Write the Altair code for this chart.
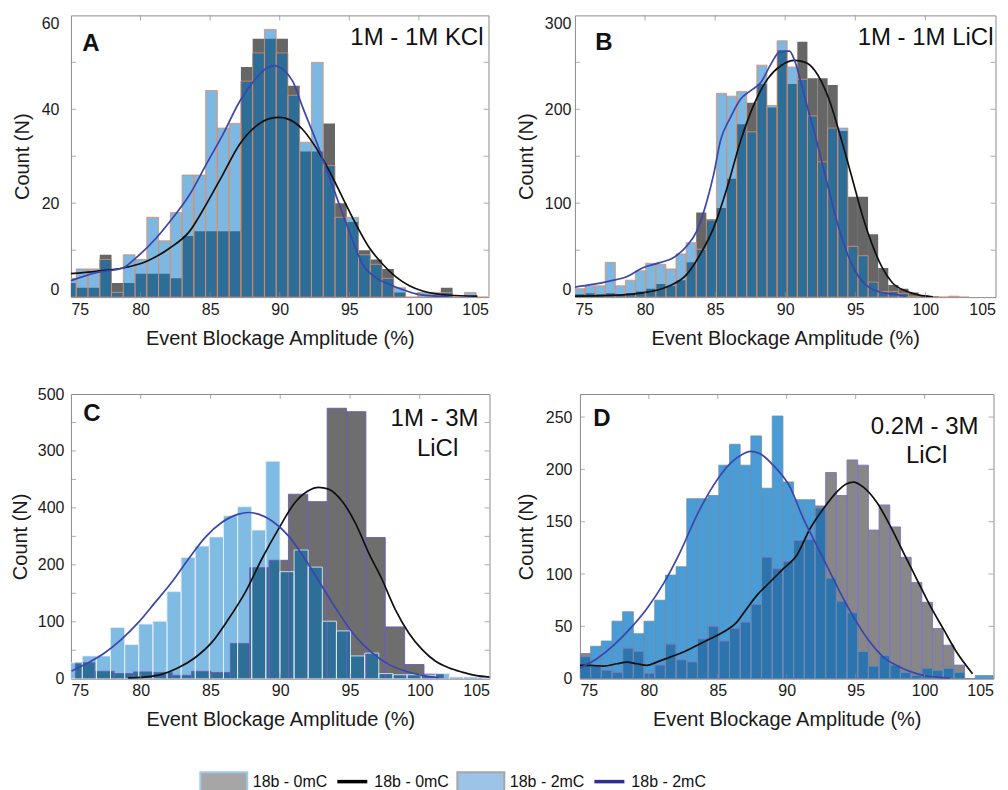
import altair as alt
import pandas as pd

FONT = "Liberation Sans"
XTITLE = "Event Blockage Amplitude (%)"
YTITLE = "Count (N)"
X_LABELS = [75, 80, 85, 90, 95, 100, 105]
X_INNER_TICKS = [80, 85, 90, 95, 100]

# ---------------- Panel A : 1M - 1M KCl ----------------
A_bin_start = 74.535
A_bin_width = 0.845
A_hist_0mC = [3, 2, 2, 9, 3, 3, 5, 5, 5, 4, 13, 14, 14, 14, 14, 49, 55, 55, 55, 45, 31, 31, 37, 20,
              16, 10, 8, 6, 1, 0, 0, 0, 2, 0, 0, 0]
A_hist_2mC = [4, 6, 6, 8, 1, 9, 8, 17, 12, 18, 26, 26, 44, 36, 37, 46, 52, 57, 52, 43, 33, 50, 28, 17,
              17, 9, 7, 4, 2, 0, 1, 1, 1, 0, 1, 0]
A_fit_0mC_x = [74.9, 76.82, 78.73, 80.41, 82.08, 83.52, 84.71, 85.91, 87.11, 88.3, 89.26, 89.98, 90.7,
               91.65, 92.61, 93.57, 94.53, 95.48, 96.44, 97.4, 98.35, 99.31, 100.27, 101.23, 102.18, 104.2]
A_fit_0mC_y = [5.0, 5.5, 6.2, 7.6, 10.4, 14.0, 19.7, 26.1, 32.5, 36.4, 38.0, 38.3, 37.8, 35.7, 31.8,
               26.8, 21.1, 15.5, 10.5, 7.0, 4.3, 2.4, 1.3, 0.7, 0.4, 0.2]
A_fit_2mC_x = [74.9, 76.82, 78.73, 79.69, 81.13, 82.32, 83.52, 84.71, 85.91, 87.11, 88.3, 89.02, 89.62,
               90.22, 90.93, 91.65, 92.61, 93.57, 94.53, 95.24, 95.96, 96.92, 97.88, 98.83, 99.79,
               100.75, 102.18]
A_fit_2mC_y = [3.4, 5.2, 6.2, 8.4, 12.6, 16.9, 21.8, 28.2, 34.6, 41.6, 46.6, 48.7, 49.3, 48.5, 46.0,
               40.4, 33.3, 25.5, 17.7, 12.0, 7.0, 4.1, 2.7, 1.6, 0.7, 0.3, 0.1]

# ---------------- Panel B : 1M - 1M LiCl ----------------
B_bin_start = 75.0
B_bin_width = 0.721
B_hist_0mC = [3, 4, 3, 4, 3, 4, 6, 9, 14, 12, 18, 37, 90, 83, 95, 126, 184, 207, 227, 202, 263, 227,
              272, 233, 233, 226, 177, 107, 107, 67, 31, 13, 9, 5, 2, 1, 0, 0, 0]
B_hist_2mC = [9, 12, 12, 37, 12, 18, 28, 36, 35, 30, 46, 58, 51, 82, 217, 214, 219, 176, 247, 204, 273,
              245, 232, 193, 144, 180, 180, 54, 44, 16, 6, 6, 4, 1, 0, 0, 0, 1, 0]
B_fit_0mC_x = [75.0, 77.45, 79.85, 81.54, 82.98, 83.94, 84.9, 85.86, 86.82, 87.79, 88.75, 89.71, 90.67,
               91.39, 92.11, 93.07, 94.03, 94.76, 95.48, 96.2, 96.92, 97.64, 98.61, 99.57, 100.53]
B_fit_0mC_y = [1.1, 1.8, 4.6, 10.7, 24.2, 45.6, 74.0, 116.7, 166.5, 205.7, 232.4, 246.6, 252.0, 250.2,
               241.3, 212.8, 166.5, 127.4, 88.3, 56.2, 31.3, 15.3, 6.4, 2.1, 0.4]
B_fit_2mC_x = [75.0, 76.25, 77.45, 78.65, 79.85, 81.05, 82.02, 82.98, 83.7, 84.42, 84.9, 85.38, 86.1,
               86.82, 87.54, 88.27, 88.99, 89.59, 90.31, 90.67, 91.39, 92.11, 92.83, 93.55, 94.27,
               94.99, 95.71, 96.68, 97.88, 98.61]
B_fit_2mC_y = [10.7, 13.5, 17.1, 21.4, 31.3, 36.7, 42.0, 54.4, 70.5, 102.5, 130.9, 166.5, 191.5, 211.0,
               219.9, 228.8, 248.4, 260.9, 262.0, 252.0, 212.8, 173.7, 131.0, 88.3, 52.7, 27.8, 13.5,
               5.7, 2.8, 1.1]

# ---------------- Panel C : 1M - 3M LiCl ----------------
C_bin_start_0mC = 75.32
C_bin_width_0mC = 1.388
C_hist_0mC = [28, 13, 9, 12, 11, 6, 13, 11, 62, 195, 208, 324, 311, 475, 469, 248, 91, 25, 8, 0, 0]
C_bin_start_2mC = 74.8
C_bin_width_2mC = 1.012
C_hist_2mC = [28, 40, 40, 90, 60, 96, 101, 153, 213, 233, 249, 286, 302, 261, 382, 188, 226, 196, 101,
              84, 40, 45, 9, 7, 7, 6, 9, 3, 3, 3]
C_fit_0mC_x = [79.1, 80.3, 81.5, 82.69, 83.89, 85.08, 86.28, 87.48, 88.67, 89.87, 91.06, 92.02, 92.74,
               93.46, 94.41, 95.37, 96.33, 97.29, 98.24, 99.2, 100.16, 101.11, 102.07, 103.03, 103.99,
               105.07]
C_fit_0mC_y = [1.2, 2.9, 7.6, 19.3, 36.9, 63.3, 104.3, 151.2, 209.8, 262.6, 309.5, 330.0, 335.9, 333.0,
               312.4, 274.3, 221.6, 174.7, 121.9, 80.9, 51.6, 31.1, 19.3, 11.7, 5.9, 2.9]
C_fit_2mC_x = [75.04, 76.23, 77.43, 78.62, 79.82, 81.02, 82.21, 83.41, 84.61, 85.8, 87.0, 87.72, 88.44,
               89.39, 90.59, 91.79, 92.98, 94.18, 95.37, 96.57, 97.77, 98.96, 100.16, 101.35]
C_fit_2mC_y = [13.5, 28.1, 45.7, 69.2, 98.5, 133.6, 168.8, 209.8, 247.9, 274.3, 289.0, 291.9, 289.0,
               277.3, 250.9, 209.8, 162.9, 116.1, 75.0, 45.7, 25.2, 13.5, 5.9, 1.8]

# ---------------- Panel D : 0.2M - 3M LiCl ----------------
D_bin_start = 75.0
D_bin_width = 0.775
D_hist_0mC = [24, 13, 8, 6, 29, 26, 5, 13, 33, 18, 16, 38, 50, 36, 48, 54, 71, 116, 105, 112, 132, 133,
              165, 197, 175, 209, 204, 142, 166, 145, 116, 92, 73, 48, 32, 13, 0, 0, 0]
D_hist_2mC = [21, 31, 36, 55, 64, 43, 55, 75, 99, 107, 172, 172, 175, 204, 224, 204, 232, 182, 251, 188,
              171, 171, 163, 96, 74, 63, 26, 12, 22, 13, 6, 3, 10, 8, 10, 6, 0, 3, 3]
D_fit_0mC_x = [74.98, 75.75, 76.71, 77.68, 78.41, 79.13, 79.86, 80.58, 81.55, 82.51, 83.48, 84.45,
               85.41, 86.38, 87.1, 87.83, 88.79, 89.76, 90.72, 91.69, 92.66, 93.62, 94.35, 94.83,
               95.56, 96.52, 97.49, 98.45, 99.42, 100.39, 101.35, 102.32, 103.48]
D_fit_0mC_y = [12.7, 12.7, 12.1, 14.3, 15.9, 14.3, 12.7, 15.9, 20.7, 25.5, 31.8, 38.2, 44.6, 54.1, 66.9,
               79.6, 92.4, 105.1, 117.8, 143.3, 162.4, 178.3, 186.3, 187.9, 183.1, 168.8, 146.5, 121.0,
               95.5, 70.1, 47.8, 25.5, 4.8]
D_fit_2mC_x = [74.98, 76.23, 77.44, 78.64, 79.85, 81.06, 82.27, 83.48, 84.69, 85.89, 86.86, 87.34,
               88.07, 89.03, 90.24, 91.21, 92.17, 93.14, 94.11, 95.07, 96.04, 97.01, 97.97, 98.94,
               99.9, 100.87, 101.84]
D_fit_2mC_y = [10.2, 19.1, 31.8, 47.8, 66.9, 90.8, 121.0, 156.1, 184.7, 205.4, 214.9, 217.2, 214.9,
               203.8, 183.1, 152.9, 127.4, 101.9, 76.4, 54.1, 35.0, 20.7, 12.7, 7.0, 3.2, 1.6, 0.6]

LEGEND_LABELS = ["18b - 0mC", "18b - 0mC", "18b - 2mC", "18b - 2mC"]


def hist_table(start, width, counts):
    n = len(counts)
    return pd.DataFrame({
        "x0": [start + i * width for i in range(n)],
        "x1": [start + (i + 1) * width for i in range(n)],
        "n": counts,
    })


def overlap_table(t0, t2):
    rows = []
    for a in t0.itertuples():
        for b in t2.itertuples():
            lo, hi = max(a.x0, b.x0), min(a.x1, b.x1)
            h = min(a.n, b.n)
            if hi - lo > 1e-9 and h > 0:
                rows.append({"x0": lo, "x1": hi, "n": h})
    return pd.DataFrame(rows)


def panel(cfg):
    W, H = cfg["w"], cfg["h"]
    xs = alt.Scale(domain=[75, 105], nice=False, zero=False)
    ys = alt.Scale(domain=[0, cfg["ymax"]], nice=False, zero=False)
    xaxis = alt.Axis(values=X_LABELS, labelPadding=4, titlePadding=10, format="d",
                     minExtent=21, maxExtent=21)
    ykw = dict(values=cfg["ylabels"], labelPadding=cfg["lp"], titlePadding=cfg["tp"],
               minExtent=34, maxExtent=34, labelFlush=cfg["flush"], format="d")
    if "labelExpr" in cfg:
        ykw["labelExpr"] = cfg["labelExpr"]
    yaxis = alt.Axis(**ykw)

    def X(f):
        return alt.X(f, type="quantitative", scale=xs, axis=xaxis, title=XTITLE)

    def Y(f):
        return alt.Y(f, type="quantitative", scale=ys, axis=yaxis, title=YTITLE)

    t0, t2 = cfg["h0"], cfg["h2"]
    ov = overlap_table(t0, t2)
    col = cfg["colors"]

    layers = []
    layers.append(alt.Chart(t0).mark_rect(color=col["gray"], clip=True).encode(
        x=X("x0"), x2=alt.X2("x1"), y=Y("n"), y2=alt.datum(0)))
    layers.append(alt.Chart(t2).mark_rect(color=col["light"], clip=True).encode(
        x=X("x0"), x2=alt.X2("x1"), y=Y("n"), y2=alt.datum(0)))
    layers.append(alt.Chart(ov).mark_rect(color=col["over"], clip=True).encode(
        x=X("x0"), x2=alt.X2("x1"), y=Y("n"), y2=alt.datum(0)))
    if "gstroke" in col:
        layers.append(alt.Chart(t0).mark_rect(fillOpacity=0, stroke=col["gstroke"], strokeWidth=0.9,
                                              clip=True).encode(
            x=X("x0"), x2=alt.X2("x1"), y=Y("n"), y2=alt.datum(0)))
    layers.append(alt.Chart(t2).mark_rect(fillOpacity=0, stroke=col["bstroke"], strokeWidth=0.8,
                                          clip=True).encode(
        x=X("x0"), x2=alt.X2("x1"), y=Y("n"), y2=alt.datum(0)))

    f0 = pd.DataFrame({"x": cfg["fit0"][0], "y": cfg["fit0"][1]})
    f2 = pd.DataFrame({"x": cfg["fit2"][0], "y": cfg["fit2"][1]})
    layers.append(alt.Chart(f0).mark_line(color="#101010", strokeWidth=1.7, interpolate="monotone",
                                          clip=True).encode(x=X("x"), y=Y("y")))
    layers.append(alt.Chart(f2).mark_line(color="#3b45ad", strokeWidth=1.7, interpolate="monotone",
                                          clip=True).encode(x=X("x"), y=Y("y")))

    tx = pd.DataFrame({"t": X_INNER_TICKS})
    ty = pd.DataFrame({"t": cfg["yticks"]})
    TC = "#8a8a8a"
    layers.append(alt.Chart(tx).mark_tick(orient="vertical", size=5, thickness=1, color=TC).encode(
        x=X("t"), y=alt.value(H - 2.5)))
    layers.append(alt.Chart(tx).mark_tick(orient="vertical", size=5, thickness=1, color=TC).encode(
        x=X("t"), y=alt.value(2.5)))
    layers.append(alt.Chart(ty).mark_tick(orient="horizontal", size=5, thickness=1, color=TC).encode(
        y=Y("t"), x=alt.value(2.5)))
    layers.append(alt.Chart(ty).mark_tick(orient="horizontal", size=5, thickness=1, color=TC).encode(
        y=Y("t"), x=alt.value(W - 2.5)))

    layers.append(alt.Chart(pd.DataFrame({"s": [cfg["letter"]]})).mark_text(
        font=FONT, fontSize=24, fontWeight="bold", color="#111111", align="center",
        baseline="middle").encode(text="s:N", x=alt.value(cfg["letter_xy"][0]),
                                  y=alt.value(cfg["letter_xy"][1])))
    for (txt, xy, align) in cfg["notes"]:
        layers.append(alt.Chart(pd.DataFrame({"s": [txt]})).mark_text(
            font=FONT, fontSize=24, color="#111111", align=align, baseline="middle").encode(
            text="s:N", x=alt.value(xy[0]), y=alt.value(xy[1])))
    if cfg.get("top_pad"):
        # invisible white spacer so that the panel's top bound matches its row neighbour
        layers.append(alt.Chart(pd.DataFrame({"s": [""]})).mark_rule(
            color="white", strokeWidth=0.5).encode(
            x=alt.value(W), y=alt.value(-cfg["top_pad"]), y2=alt.value(0)))

    return alt.layer(*layers).properties(width=W, height=H)


colAB = {"gray": "#666666", "light": "#7db8e3", "over": "#2c6e98", "bstroke": "#e38a60"}
colC = {"gray": "#6e6e6e", "light": "#80bbe4", "over": "#2e6f98", "gstroke": "#6b5eb8",
        "bstroke": "#e6f0f8"}
colD = {"gray": "#878787", "light": "#4a9cd6", "over": "#2b74ad", "gstroke": "#7e72c9",
        "bstroke": "#6c8eaa"}

pA = panel(dict(
    w=418, h=282, ymax=60, ylabels=[0, 20, 40, 60], yticks=[10, 20, 30, 40, 50], lp=12, tp=4,
    flush=True, colors=colAB,
    h0=hist_table(A_bin_start, A_bin_width, A_hist_0mC),
    h2=hist_table(A_bin_start, A_bin_width, A_hist_2mC),
    fit0=(A_fit_0mC_x, A_fit_0mC_y), fit2=(A_fit_2mC_x, A_fit_2mC_y),
    letter="A", letter_xy=(20, 29), notes=[("1M - 1M KCl", (413, 23), "right")]))

pB = panel(dict(
    w=421, h=282, ymax=300, ylabels=[0, 100, 200, 300], yticks=[50, 100, 150, 200, 250], lp=4, tp=4,
    flush=True, colors=colAB,
    h0=hist_table(B_bin_start, B_bin_width, B_hist_0mC),
    h2=hist_table(B_bin_start, B_bin_width, B_hist_2mC),
    fit0=(B_fit_0mC_x, B_fit_0mC_y), fit2=(B_fit_2mC_x, B_fit_2mC_y),
    letter="B", letter_xy=(29, 28), notes=[("1M - 1M LiCl", (419, 23), "right")]))

pC = panel(dict(
    w=419, h=285, ymax=500, ylabels=[0, 100, 200, 300, 400, 500],
    yticks=[50, 100, 150, 200, 250, 300, 350, 400, 450], lp=7, tp=6, flush=False,
    labelExpr="datum.value == 300 ? '400' : (datum.value == 400 ? '300' : datum.label)",
    colors=colC,
    h0=hist_table(C_bin_start_0mC, C_bin_width_0mC, C_hist_0mC),
    h2=hist_table(C_bin_start_2mC, C_bin_width_2mC, C_hist_2mC),
    fit0=(C_fit_0mC_x, C_fit_0mC_y), fit2=(C_fit_2mC_x, C_fit_2mC_y),
    letter="C", letter_xy=(21, 20),
    notes=[("1M - 3M", (364, 25), "center"), ("LiCl", (367, 55), "center")]))

pD = panel(dict(
    w=414, h=285, ymax=272, ylabels=[0, 50, 100, 150, 200, 250], yticks=[50, 100, 150, 200, 250],
    lp=8, tp=9, flush=False, colors=colD, top_pad=8,
    h0=hist_table(D_bin_start, D_bin_width, D_hist_0mC),
    h2=hist_table(D_bin_start, D_bin_width, D_hist_2mC),
    fit0=(D_fit_0mC_x, D_fit_0mC_y), fit2=(D_fit_2mC_x, D_fit_2mC_y),
    letter="D", letter_xy=(22, 25),
    notes=[("0.2M - 3M", (345, 33), "center"), ("LiCl", (347, 62), "center")]))

# ---------------- legend ----------------
leg = pd.DataFrame({"i": list(range(len(LEGEND_LABELS))), "label": LEGEND_LABELS})
lx = alt.X("i:Q", scale=alt.Scale(domain=[0, 3], range=[153, 539]), axis=None)
LFONT = "Liberation Sans"
PATCH = "M-1,-0.4L1,-0.4L1,0.4L-1,0.4Z"
LINE = "M-1,0L1,0"
LY = 10
leg_layers = [
    alt.Chart(leg).transform_filter("datum.i == 0").mark_point(
        shape=PATCH, size=2209, filled=True, fill="#a6a6a6", stroke="#9fcbea", strokeWidth=2,
        opacity=1).encode(x=lx, y=alt.value(LY)),
    alt.Chart(leg).transform_filter("datum.i == 2").mark_point(
        shape=PATCH, size=2209, filled=True, fill="#9dc3e6", stroke="#a6a6a6", strokeWidth=2,
        opacity=1).encode(x=lx, y=alt.value(LY)),
    alt.Chart(leg).transform_filter("datum.i == 1").mark_point(
        shape=LINE, size=900, filled=False, stroke="#000000", strokeWidth=3.5,
        opacity=1).encode(x=lx, y=alt.value(LY)),
    alt.Chart(leg).transform_filter("datum.i == 3").mark_point(
        shape=LINE, size=900, filled=False, stroke="#2e3192", strokeWidth=3.5,
        opacity=1).encode(x=lx, y=alt.value(LY)),
    alt.Chart(leg).transform_filter("datum.i % 2 == 0").mark_text(
        font=LFONT, fontSize=16, align="left", baseline="middle", dx=29, color="#111111").encode(
        x=lx, y=alt.value(LY), text="label:N"),
    alt.Chart(leg).transform_filter("datum.i % 2 == 1").mark_text(
        font=LFONT, fontSize=16, align="left", baseline="middle", dx=22, color="#111111").encode(
        x=lx, y=alt.value(LY), text="label:N"),
]
legend = alt.layer(*leg_layers).properties(width=700, height=20,
                                           view=alt.ViewBackground(stroke="transparent"))

row1 = alt.hconcat(pA, pB, spacing=26.5)
row2 = alt.hconcat(pC, pD, spacing=25.5)
grid = alt.vconcat(row1, row2, spacing=36)
chart = alt.vconcat(grid, legend, spacing=37).properties(
    padding={"left": 2, "top": 6, "right": 4, "bottom": 0}, background="white"
).configure_view(stroke="#8c8c8c", strokeWidth=1).configure_axis(
    domain=False, ticks=False, tickSize=0, grid=False,
    labelFont=FONT, labelFontSize=16, labelColor="#1a1a1a",
    titleFont=FONT, titleFontSize=20, titleFontWeight="normal", titleColor="#1a1a1a",
)

chart.save("out.html", embed_options={"renderer": "svg", "actions": False})
